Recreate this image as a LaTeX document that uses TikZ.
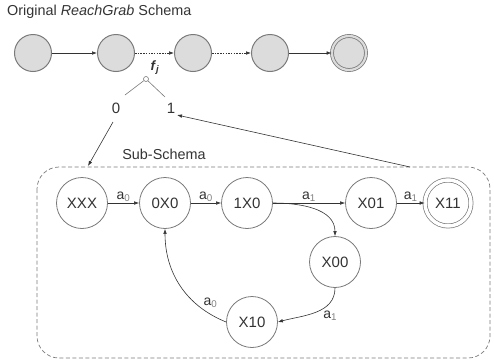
\documentclass[tikz,border=0pt]{standalone}
\usepackage{fontspec}
\setmainfont{Liberation Sans}
\usetikzlibrary{arrows.meta}

\definecolor{inkc}{HTML}{333333}
\definecolor{rimc}{HTML}{7A7A7A}
\definecolor{topfill}{HTML}{DCDCDC}

\tikzset{
  topstate/.style={circle, draw=rimc, fill=topfill, line width=1pt,
    minimum size=37pt, inner sep=0pt},
  topfinal/.style={topstate, double=topfill, double distance=2.2pt, line width=0.8pt,
    minimum size=34pt},
  substate/.style={circle, draw=rimc, fill=white, line width=0.8pt,
    minimum size=51pt, inner sep=0pt, text=inkc,
    font=\fontsize{15}{15}\selectfont},
  subfinal/.style={substate, double=white, double distance=3.5pt, line width=0.7pt,
    minimum size=46pt},
  edge/.style={-{Latex[length=5pt,width=3.6pt]}, draw=inkc, line width=0.6pt},
  dotedge/.style={edge, dash pattern=on 1.5pt off 1.2pt},
  lbl/.style={text=inkc, font=\fontsize{14}{14}\selectfont, inner sep=1pt},
  caption/.style={text=inkc, font=\fontsize{14.4}{14.4}\selectfont, inner sep=0pt},
  branchlbl/.style={text=inkc, font=\fontsize{15}{15}\selectfont, inner sep=0pt},
}
\newcommand{\act}[1]{a\textsubscript{\color{gray}#1}}

\begin{document}
\begin{tikzpicture}[x=1pt,y=-1pt]
\useasboundingbox (0,0) rectangle (494,362);

% top schema
\node[caption, anchor=west] (title) at (7,12) {Original \textit{ReachGrab} Schema};
\node[topstate] (t1) at (33,53) {};
\node[topstate] (t2) at (116,53) {};
\node[topstate] (t3) at (193,53) {};
\node[topstate] (t4) at (270,53) {};
\node[topfinal] (t5) at (349,53) {};
\draw[edge] (t1) -- (t2);
\draw[dotedge] (t2) -- (t3);
\draw[dotedge] (t3) -- (t4);
\draw[edge] (t4) -- (t5);

% branch on f_j
\node[text=inkc, font=\fontsize{13.5}{13.5}\selectfont\bfseries] (fj) at (155,68) {\textit{f}\textsubscript{\textit{j}}};
\node[circle, draw=rimc, fill=white, line width=0.6pt, minimum size=5pt, inner sep=0pt] (fork) at (146,79) {};
\node[branchlbl] (zero) at (116,108) {0};
\node[branchlbl] (one) at (171,108) {1};
\coordinate (zerotop) at (125,95);
\coordinate (onetop) at (165,97);
\draw[draw=rimc, line width=0.6pt] (fork) -- (zerotop);
\draw[draw=rimc, line width=0.6pt] (fork) -- (onetop);

% sub-schema frame
\draw[draw=rimc, line width=0.7pt, dash pattern=on 4pt off 2.5pt, rounded corners=22pt]
  (37,167) rectangle (490,358);
\node[caption] (subtitle) at (164,154) {Sub-Schema};
\coordinate (zerofoot) at (113,122);
\coordinate (boxin) at (88,166);
\coordinate (boxout) at (410,167);
\coordinate (onefoot) at (177,115);
\draw[edge] (zerofoot) -- (boxin);
\draw[edge] (boxout) -- (onefoot);

% sub-schema states
\node[substate] (xxx) at (82,203) {XXX};
\node[substate] (s0x0) at (165,203) {0X0};
\node[substate] (s1x0) at (247,203) {1X0};
\node[substate] (x01) at (371,203) {X01};
\node[subfinal] (x11) at (448,203) {X11};
\node[substate] (x00) at (335,262) {X00};
\node[substate] (x10) at (252,322) {X10};

\draw[edge] (xxx) -- node[lbl, above] {\act{0}} (s0x0);
\draw[edge] (s0x0) -- node[lbl, above] {\act{0}} (s1x0);
\draw[edge] (s1x0) -- node[lbl, above] {\act{1}} (x01);
\draw[edge] (x01) -- node[lbl, above] {\act{1}} (x11);
\draw[edge] (s1x0.east) to[out=0, in=90] (x00.north);
\draw[edge] (x00.south) to[out=-90, in=15] node[lbl, pos=0.4, below right] {\act{1}} (x10.east);
\draw[edge] (x10.west) to[out=158, in=-90] node[lbl, pos=0.22, above right] {\act{0}} (s0x0.south);
\end{tikzpicture}
\end{document}
